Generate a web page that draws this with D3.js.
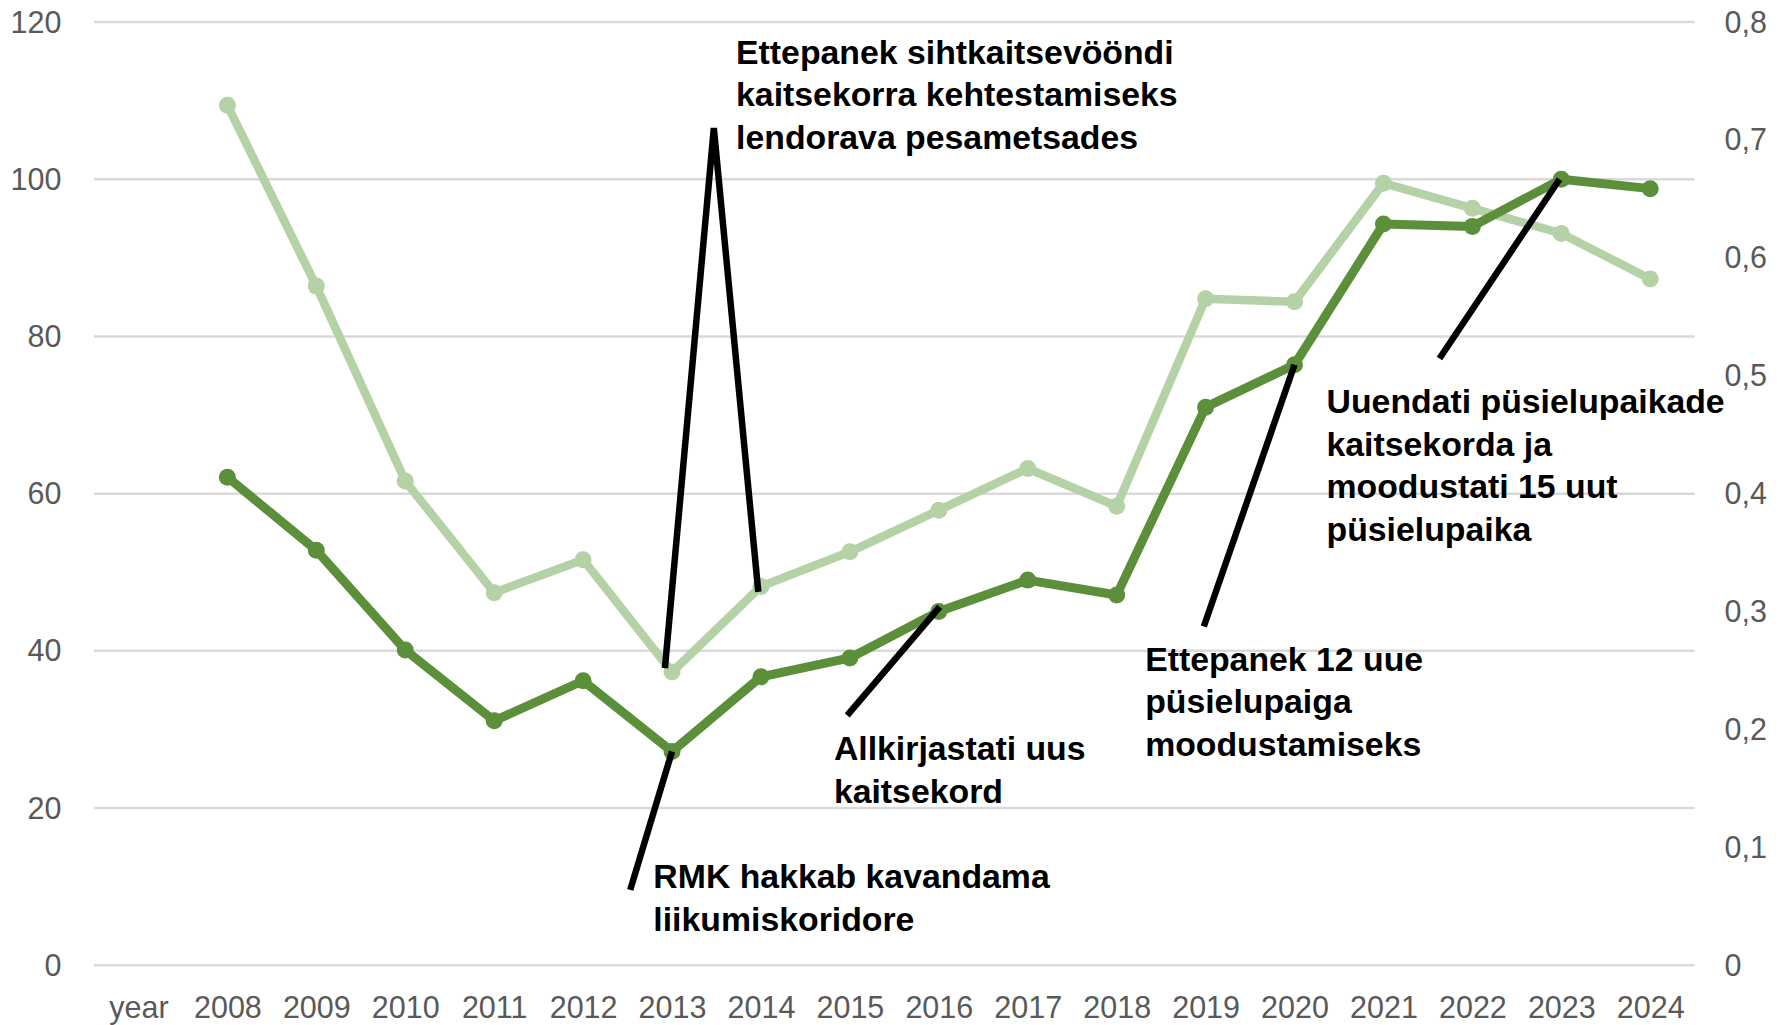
<!DOCTYPE html>
<html>
<head>
<meta charset="utf-8">
<script src="https://cdn.jsdelivr.net/npm/d3@7"></script>
<style>
  html, body { margin: 0; padding: 0; background: #ffffff; }
  svg { display: block; }
</style>
</head>
<body>
<svg id="chart" width="1785" height="1025"></svg>
<script>
// ---------- data ----------
const categories = ["year", "2008", "2009", "2010", "2011", "2012", "2013", "2014", "2015",
  "2016", "2017", "2018", "2019", "2020", "2021", "2022", "2023", "2024"];
const lightSeries = [null, 109.4, 86.4, 61.6, 47.4, 51.6, 37.3, 48.2, 52.6, 57.9, 63.2, 58.4,
  84.8, 84.4, 99.5, 96.3, 93.1, 87.3];
const darkSeries = [null, 62.1, 52.8, 40.1, 31.1, 36.2, 27.2, 36.7, 39.1, 45.0, 49.0, 47.1,
  71.0, 76.4, 94.3, 94.0, 100.0, 98.8];
const leftTicks = [0, 20, 40, 60, 80, 100, 120];
const rightTicks = [0, 0.1, 0.2, 0.3, 0.4, 0.5, 0.6, 0.7, 0.8];

// annotation leader lines, as [year position, left-axis value]
const noteLines = [
  [[2012.92, 37.8], [2013.47, 106.5], [2013.97, 47.5]],
  [[2012.53, 9.6], [2013.0, 27.2]],
  [[2014.97, 31.8], [2016.01, 45.6]],
  [[2018.98, 43.1], [2020.0, 76.4]],
  [[2021.63, 77.2], [2022.98, 100.0]]
];
// annotation texts, anchored at [year position, left-axis value] (first line baseline)
const noteAnchors = [[2013.72, 114.7], [2012.79, 9.8], [2014.82, 26.1], [2018.32, 37.5], [2020.36, 70.2]];
const noteTexts = [
  ["Ettepanek sihtkaitsevööndi", "kaitsekorra kehtestamiseks", "lendorava pesametsades"],
  ["RMK hakkab kavandama", "liikumiskoridore"],
  ["Allkirjastati uus", "kaitsekord"],
  ["Ettepanek 12 uue", "püsielupaiga", "moodustamiseks"],
  ["Uuendati püsielupaikade", "kaitsekorda ja", "moodustati 15 uut", "püsielupaika"]
];

// ---------- layout ----------
const plotLeft = 94, plotRight = 1694.7, plotTop = 22, plotBottom = 965.3;
const font = "'Liberation Sans', Arial, sans-serif";
const axisColor = "#595959";
const lightColor = "#B5D1A6";
const darkColor = "#5B8F3A";

const svg = d3.select("#chart");
svg.append("rect").attr("width", 1785).attr("height", 1025).attr("fill", "#fff");

const x = d3.scalePoint().domain(categories).range([plotLeft, plotRight]).padding(0.5);
const xCont = d3.scaleLinear().domain([2006.5, 2024.5]).range([plotLeft, plotRight]);
const y = d3.scaleLinear().domain([0, 120]).range([plotBottom, plotTop]);
const yRight = d3.scaleLinear().domain([0, 0.8]).range([plotBottom, plotTop]);

// gridlines
svg.append("g").selectAll("line").data(leftTicks).join("line")
  .attr("x1", plotLeft).attr("x2", plotRight)
  .attr("y1", d => y(d)).attr("y2", d => y(d))
  .attr("stroke", "#D9D9D9").attr("stroke-width", 2.5);

// left axis
const leftAxis = d3.axisLeft(y).tickValues(leftTicks).tickSize(0).tickPadding(0)
  .tickFormat(d3.format("d"));
const gl = svg.append("g").attr("transform", `translate(61.5,0)`).call(leftAxis);
gl.select(".domain").remove();
gl.selectAll("text").attr("font-family", font).attr("font-size", 30.5)
  .attr("fill", axisColor).attr("dy", "0.33em").attr("text-anchor", "end");

// right axis
const commaFmt = d => d === 0 ? "0" : d3.format(".1f")(d).replace(".", ",");
const rightAxis = d3.axisRight(yRight).tickValues(rightTicks).tickSize(0).tickPadding(0)
  .tickFormat(commaFmt);
const gr = svg.append("g").attr("transform", `translate(1724.6,0)`).call(rightAxis);
gr.select(".domain").remove();
gr.selectAll("text").attr("font-family", font).attr("font-size", 30.5)
  .attr("fill", axisColor).attr("dy", "0.33em").attr("text-anchor", "start");

// bottom axis
const bottomAxis = d3.axisBottom(x).tickSize(0).tickPadding(0);
const gb = svg.append("g").attr("transform", `translate(0,1018)`).call(bottomAxis);
gb.select(".domain").remove();
gb.selectAll("text").attr("font-family", font).attr("font-size", 30.5)
  .attr("fill", axisColor).attr("dy", "0").attr("y", 0);

// series
function drawSeries(values, color, width) {
  const pts = categories.map((c, i) => ({ c, v: values[i] })).filter(d => d.v != null);
  const line = d3.line().x(d => x(d.c)).y(d => y(d.v));
  svg.append("path").datum(pts).attr("d", line).attr("fill", "none")
    .attr("stroke", color).attr("stroke-width", width)
    .attr("stroke-linejoin", "round").attr("stroke-linecap", "round");
  svg.append("g").selectAll("circle").data(pts).join("circle")
    .attr("cx", d => x(d.c)).attr("cy", d => y(d.v)).attr("r", 8.5).attr("fill", color);
}
drawSeries(lightSeries, lightColor, 8.5);
drawSeries(darkSeries, darkColor, 9);

// annotation leader lines
const noteLine = d3.line().x(d => xCont(d[0])).y(d => y(d[1]));
svg.append("g").selectAll("path").data(noteLines).join("path")
  .attr("d", noteLine).attr("fill", "none").attr("stroke", "#000")
  .attr("stroke-width", 6.5).attr("stroke-linejoin", "miter");

// annotation texts
const notes = svg.append("g").selectAll("text").data(noteTexts).join("text")
  .attr("x", (d, i) => xCont(noteAnchors[i][0]))
  .attr("y", (d, i) => y(noteAnchors[i][1]))
  .attr("font-family", font).attr("font-size", 33.8).attr("font-weight", "bold")
  .attr("fill", "#000");
notes.each(function (lines, i) {
  const t = d3.select(this);
  const x0 = xCont(noteAnchors[i][0]);
  lines.forEach((ln, j) => {
    t.append("tspan").attr("x", x0).attr("dy", j === 0 ? 0 : 42.5).text(ln);
  });
});
</script>
</body>
</html>
